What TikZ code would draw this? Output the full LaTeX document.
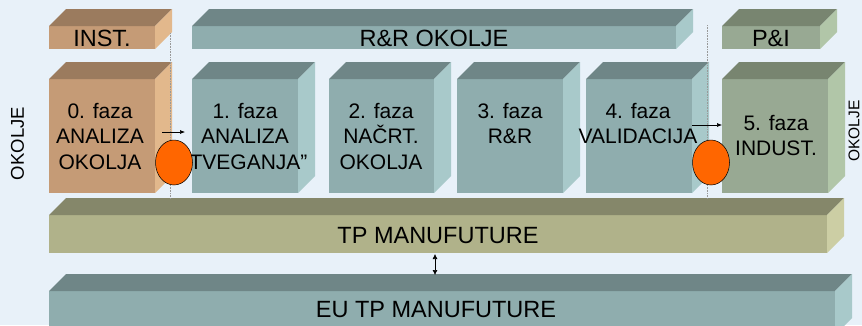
\documentclass[tikz,border=0pt]{standalone}
\usepackage{fontspec}
\setmainfont{Liberation Sans}
\usetikzlibrary{arrows.meta,shapes.geometric}
\definecolor{bg}{HTML}{E8F1F9}
\definecolor{tanF}{HTML}{C59B76}
\definecolor{tanT}{HTML}{9B7B5E}
\definecolor{tanS}{HTML}{E2B88C}
\definecolor{teaF}{HTML}{8FADAE}
\definecolor{teaT}{HTML}{6F8687}
\definecolor{teaS}{HTML}{A8C9CA}
\definecolor{grnF}{HTML}{98A993}
\definecolor{grnT}{HTML}{788570}
\definecolor{grnS}{HTML}{B1C6A8}
\definecolor{oliF}{HTML}{B0B28A}
\definecolor{oliT}{HTML}{85876A}
\definecolor{oliS}{HTML}{CCCEA4}
\definecolor{orng}{HTML}{FF6600}
\newcommand\boxthreed[7]{%
  \fill[#5] (#1,#2) rectangle (#3,#4);
  \fill[#6] (#1,#2) -- (#1+17,#2-17) -- (#3+17,#2-17) -- (#3,#2) -- cycle;
  \fill[#7] (#3,#2) -- (#3+17,#2-17) -- (#3+17,#4-17) -- (#3,#4) -- cycle;
}
\tikzset{
  toplabel/.style={inner sep=0pt, font=\fontsize{23.5}{28}\selectfont},
  phasetext/.style={inner sep=0pt, anchor=north, align=center, font=\fontsize{21}{25.5}\selectfont},
  barlabel/.style={inner sep=0pt, font=\fontsize{23.5}{28}\selectfont},
  sidelabel/.style={inner sep=0pt, rotate=90},
  sep/.style={draw=gray!80, densely dotted, line width=0.6pt},
  flow/.style={-{Latex[length=5pt,width=4pt]}, line width=0.6pt},
  gate/.style={ellipse, draw=black, fill=orng, line width=0.5pt, minimum width=37pt, minimum height=45pt, inner sep=0pt}
}
\begin{document}
\begin{tikzpicture}[x=1pt,y=-1pt]
\useasboundingbox (0,0) rectangle (862,325);
\clip (0,0) rectangle (862,325);
\fill[bg] (0,0) rectangle (862,325);
% top bars
\boxthreed{49}{26}{155}{49}{tanF}{tanT}{tanS}
\boxthreed{192}{26}{676}{49}{teaF}{teaT}{teaS}
\boxthreed{722}{26}{820}{49}{grnF}{grnT}{grnS}
% phases
\boxthreed{49}{79}{155}{193}{tanF}{tanT}{tanS}
\boxthreed{192}{79}{298}{193}{teaF}{teaT}{teaS}
\boxthreed{329}{79}{434}{193}{teaF}{teaT}{teaS}
\boxthreed{457}{79}{563}{193}{teaF}{teaT}{teaS}
\boxthreed{586}{79}{692}{193}{teaF}{teaT}{teaS}
\boxthreed{722}{79}{828}{193}{grnF}{grnT}{grnS}
% bottom bars
\boxthreed{49}{215}{827}{253}{oliF}{oliT}{oliS}
\boxthreed{49}{291}{835}{335}{teaF}{teaT}{teaS}
% labels
\node[toplabel] (inst) at (102,38.5) {INST.};
\node[toplabel] (rr) at (434,38) {R\&R OKOLJE};
\node[toplabel] (pi) at (771,38.5) {P\&I};
\node[phasetext] (f0) at (100,102.7) {0. faza\\ANALIZA\\OKOLJA};
\node[phasetext] (f1) at (245,102.7) {1. faza\\ANALIZA\\„TVEGANJA”};
\node[phasetext] (f2) at (381,102.7) {2. faza\\NAČRT.\\OKOLJA};
\node[phasetext] (f3) at (510,102.7) {3. faza\\R\&R};
\node[phasetext] (f4) at (638,102.7) {4. faza\\VALIDACIJA};
\node[phasetext] (f5) at (776,114.7) {5. faza\\INDUST.};
\node[barlabel] (tp) at (438,235.5) {TP MANUFUTURE};
\node[barlabel] (eu) at (436,310) {EU TP MANUFUTURE};
\node[sidelabel, font=\fontsize{18.5}{22}\selectfont] (okl) at (17.5,143.5) {OKOLJE};
\node[sidelabel, font=\fontsize{15.5}{19}\selectfont] (okr) at (854,131) {OKOLJE};
% separators
\coordinate (s1a) at (170,33);
\coordinate (s1b) at (170,198);
\coordinate (s2a) at (707,25);
\coordinate (s2b) at (707,198);
\draw[sep] (s1a) -- (s1b);
\draw[sep] (s2a) -- (s2b);
% flow arrows
\coordinate (a1s) at (162,132);
\coordinate (a1e) at (185,132);
\coordinate (a2s) at (692,125);
\coordinate (a2e) at (722,125);
\draw[flow] (a1s) -- (a1e);
\draw[flow] (a2s) -- (a2e);
\coordinate (tpb) at (435,254);
\coordinate (eut) at (435,275);
\draw[{Latex[length=5pt,width=5pt]}-{Latex[length=5pt,width=5pt]}, line width=0.6pt] (tpb) -- (eut);
% gates
\node[gate] (g1) at (174,162.5) {};
\node[gate] (g2) at (711,162.5) {};
\end{tikzpicture}
\end{document}
